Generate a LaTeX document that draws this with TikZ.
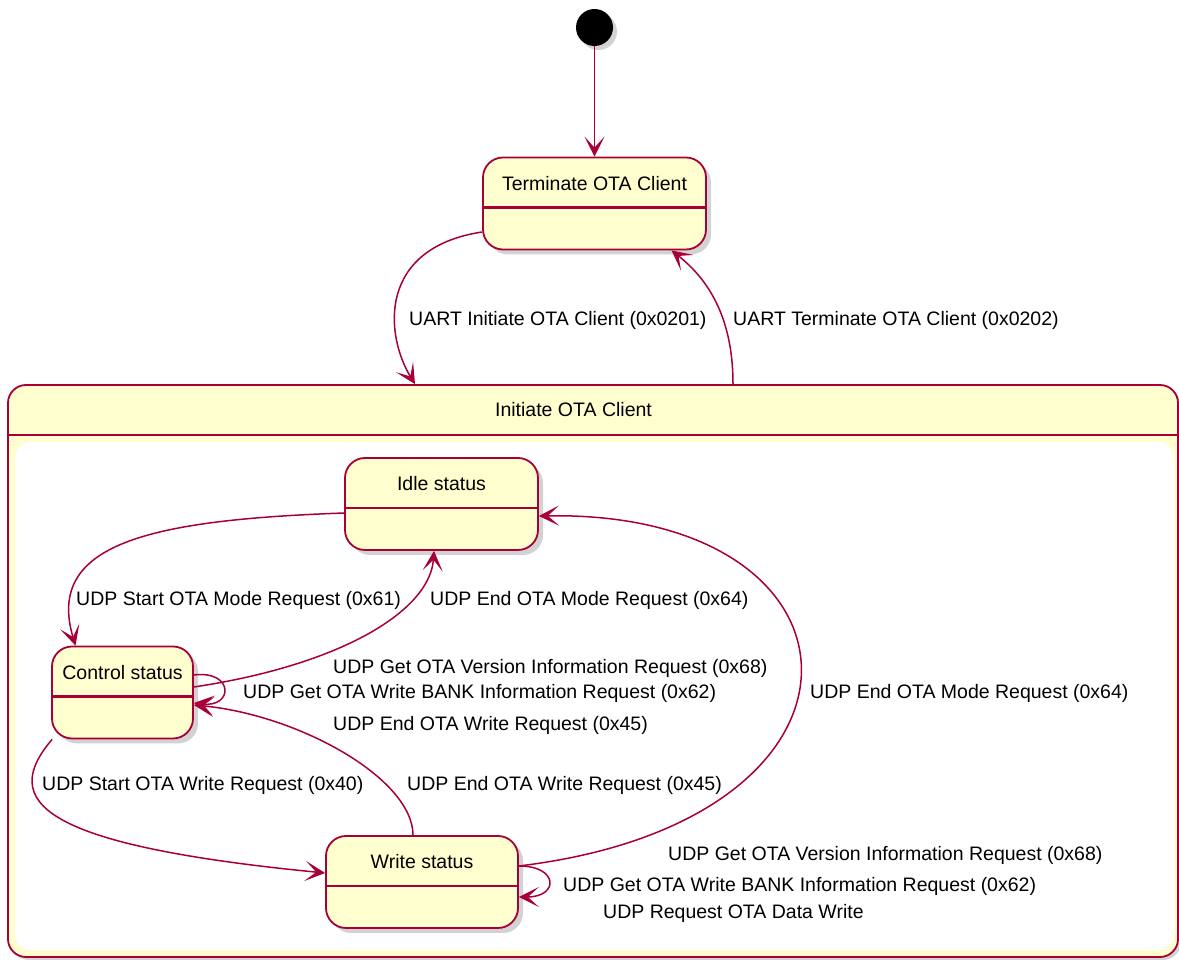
\documentclass[tikz,border=0pt]{standalone}
\usepackage{fontspec}
\setmainfont{Liberation Sans}
\usetikzlibrary{arrows.meta,shadows}
\definecolor{umlred}{HTML}{A80036}
\definecolor{umlfill}{HTML}{FEFECE}
\begin{document}
\begin{tikzpicture}[
    x=1pt, y=1pt,
    font=\fontsize{19.5}{23}\selectfont,
    initdot/.style={circle, fill=black, minimum size=37pt, inner sep=0pt, drop shadow={shadow xshift=4pt, shadow yshift=-4pt, opacity=0.35}},
    statebox/.style={rectangle, draw=umlred, fill=umlfill, line width=1.8pt, rounded corners=20pt, inner sep=0pt, minimum height=92pt, text height=33pt, text depth=59pt, drop shadow={shadow xshift=5pt, shadow yshift=-5pt, opacity=0.35},
        path picture={\draw[umlred, line width=2.4pt] ([yshift=-50pt]path picture bounding box.north west) -- ([yshift=-50pt]path picture bounding box.north east);}},
    compositebox/.style={rectangle, draw=umlred, fill=umlfill, line width=1.8pt, rounded corners=18pt, inner sep=0pt, minimum width=1170pt, minimum height=572pt, drop shadow={shadow xshift=3pt, shadow yshift=-3pt, opacity=0.35},
        path picture={\fill[white, rounded corners=16pt] ([xshift=7pt,yshift=-57pt]path picture bounding box.north west) rectangle ([xshift=-4pt,yshift=7pt]path picture bounding box.south east);
            \draw[umlred, line width=2.4pt] ([yshift=-50pt]path picture bounding box.north west) -- ([yshift=-50pt]path picture bounding box.north east);}},
    lbl/.style={inner sep=0pt, anchor=west},
    arrow/.style={-{Stealth[length=20pt, width=20pt, inset=11pt]}, draw=umlred, line width=1.5pt}
]
\useasboundingbox (0,0) rectangle (1179,961);

% Initial state
\node[initdot] (dot) at (594.5,933.5) {};

% States
\node[statebox, minimum width=223pt] (term) at (594.5,757.5) {Terminate OTA Client};
\node[compositebox] (init) at (593,290) {};
\node (inittitle) at (573.5,551) {Initiate OTA Client};
\node[statebox, minimum width=193pt] (idle) at (441.5,457) {Idle status};
\node[statebox, minimum width=141pt] (ctrl) at (122.5,268.5) {Control status};
\node[statebox, minimum width=192pt] (write) at (422,79) {Write status};

% Labels
\node[lbl] (lbinit) at (409,641) {UART Initiate OTA Client (0x0201)};
\node[lbl] (lbterm) at (733,641) {UART Terminate OTA Client (0x0202)};
\node[lbl] (lbstartmode) at (76,361) {UDP Start OTA Mode Request (0x61)};
\node[lbl] (lbendmode) at (430,361) {UDP End OTA Mode Request (0x64)};
\node[lbl] (lbctrlver) at (333,293) {UDP Get OTA Version Information Request (0x68)};
\node[lbl] (lbctrlbank) at (243,268) {UDP Get OTA Write BANK Information Request (0x62)};
\node[lbl] (lbctrlend) at (333,236) {UDP End OTA Write Request (0x45)};
\node[lbl] (lbstartwrite) at (42,176) {UDP Start OTA Write Request (0x40)};
\node[lbl] (lbendwrite) at (407,176) {UDP End OTA Write Request (0x45)};
\node[lbl] (lbendmodew) at (810,268) {UDP End OTA Mode Request (0x64)};
\node[lbl] (lbwritever) at (668,106) {UDP Get OTA Version Information Request (0x68)};
\node[lbl] (lbwritebank) at (563,75) {UDP Get OTA Write BANK Information Request (0x62)};
\node[lbl] (lbwritedata) at (603,48) {UDP Request OTA Data Write};

% Transitions
\draw[arrow] (dot) -- (term);
\draw[arrow] ([yshift=-28.5pt]term.west) .. controls +(-105,-16) and +(-30,49) .. ([xshift=-178pt]init.north);
\draw[arrow] ([xshift=140pt]init.north) .. controls +(0,65) and +(38,-30) .. ([xshift=77pt]term.south);
\draw[arrow] ([yshift=-9pt]idle.west) .. controls +(-195,-7) and +(-30.5,102) .. ([xshift=-47pt]ctrl.north);
\draw[arrow] ([yshift=5.5pt]ctrl.east) .. controls +(147,22) and +(-4,-60) .. ([xshift=-7.5pt]idle.south);
\draw[arrow] ([yshift=17.5pt]ctrl.east) .. controls +(40,5) and +(40,-5) .. ([yshift=-10.5pt]ctrl.east);
\draw[arrow] ([xshift=-9pt]write.north) .. controls +(0,56) and +(106,-10) .. ([yshift=-12.5pt]ctrl.east);
\draw[arrow] ([xshift=1pt]ctrl.south west) .. controls +(-53,-62) and +(-286,28) .. ([yshift=9pt]write.west);
\draw[arrow] ([yshift=16pt]write.east) .. controls +(382,46) and +(342,6) .. ([yshift=-12pt]idle.east);
\draw[arrow] ([yshift=16pt]write.east) .. controls +(40,0) and +(40,0) .. ([yshift=-15pt]write.east);

\end{tikzpicture}
\end{document}
